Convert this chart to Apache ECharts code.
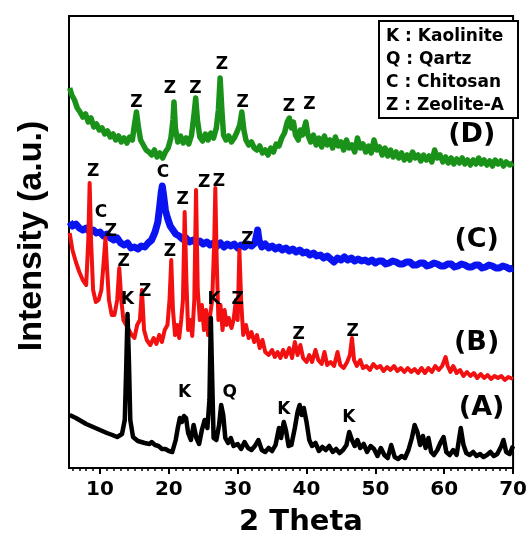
<!DOCTYPE html>
<html><head><meta charset="utf-8">
<script src="https://cdn.jsdelivr.net/npm/echarts@6/dist/echarts.min.js"></script>
<style>html,body{margin:0;padding:0;background:#fff}#c{width:530px;height:539px}</style>
</head><body><div id="c"></div><script>
const FONT = '"DejaVu Sans", sans-serif';
const xTickLabels = [10, 20, 30, 40, 50, 60, 70];

// (A) raw kaolin - black
const curveA = [[5.6,53],[6.5,50],[8,44],[9,41],[10,38],[11,35],[11.8,33],[12.5,31],[13.2,34],[13.6,48],[13.8,98],[14.0,154],[14.2,108],[14.4,48],[14.8,31],[15.5,27],[16.5,25],[17.2,24],[17.5,26],[18,23],[18.5,22],[19,19],[19.5,19],[20,17],[20.5,16],[21,28],[21.3,40],[21.6,50],[21.9,46],[22.2,52],[22.5,50],[22.8,35],[23.2,28],[23.6,43],[24.0,30],[24.4,24],[24.8,38],[25.2,48],[25.6,40],[25.9,68],[26.1,150],[26.3,88],[26.5,30],[26.9,28],[27.3,43],[27.6,63],[27.9,53],[28.2,30],[28.6,25],[29.0,30],[29.4,22],[30,24],[30.5,19],[31,26],[31.5,20],[32,18],[32.5,22],[33,28],[33.5,18],[34,16],[34.5,20],[35,17],[35.5,23],[36,40],[36.3,30],[36.7,46],[37.0,38],[37.4,22],[37.8,23],[38.3,40],[38.7,56],[39.0,63],[39.3,53],[39.6,60],[40.0,46],[40.4,28],[40.8,22],[41.3,25],[41.8,17],[42.3,21],[42.8,18],[43.3,22],[43.8,16],[44.3,19],[44.8,15],[45.3,18],[45.8,23],[46.2,36],[46.6,28],[47.0,22],[47.4,28],[47.8,20],[48.3,24],[48.8,16],[49.3,22],[49.8,19],[50.3,12],[50.8,20],[51.3,13],[51.8,10],[52.3,23],[52.8,11],[53.3,9],[53.8,12],[54.3,10],[54.8,18],[55.3,30],[55.7,43],[56.1,36],[56.5,23],[56.9,32],[57.3,20],[57.7,30],[58.1,16],[58.5,13],[59.0,18],[59.5,26],[59.9,31],[60.3,16],[60.8,13],[61.3,18],[61.8,13],[62.4,40],[62.8,23],[63.2,15],[63.7,13],[64.2,16],[64.7,12],[65.2,14],[65.7,11],[66.2,13],[66.7,16],[67.2,12],[67.7,14],[68.3,22],[68.6,28],[69.0,16],[69.5,14],[70,22]];

// (B) zeolite-A - red
const curveB = [[5.6,235],[6.0,218],[6.5,206],[7.0,196],[7.5,188],[8.0,183],[8.3,228],[8.5,285],[8.7,228],[9.0,178],[9.4,166],[9.8,168],[10.2,178],[10.5,203],[10.8,230],[11.0,203],[11.3,168],[11.7,153],[12.1,153],[12.5,168],[12.8,200],[13.1,168],[13.4,148],[13.8,143],[14.2,138],[14.6,133],[15.0,130],[15.4,143],[15.8,148],[16.1,178],[16.4,138],[16.8,128],[17.3,123],[17.8,130],[18.2,124],[18.6,133],[19.0,126],[19.4,138],[19.8,143],[20.1,168],[20.35,208],[20.6,158],[20.9,133],[21.2,143],[21.5,130],[21.8,148],[22.05,168],[22.3,256],[22.55,188],[22.8,138],[23.1,148],[23.4,132],[23.7,168],[23.95,278],[24.2,178],[24.5,148],[24.8,163],[25.1,138],[25.4,158],[25.7,133],[26.0,153],[26.3,168],[26.6,228],[26.75,280],[26.95,208],[27.2,148],[27.5,163],[27.8,138],[28.1,158],[28.4,143],[28.7,150],[29.1,140],[29.4,148],[29.75,168],[30.0,148],[30.25,218],[30.5,168],[30.8,133],[31.2,143],[31.6,130],[32.0,136],[32.4,126],[32.8,133],[33.2,120],[33.6,128],[34.0,116],[34.5,113],[35.0,118],[35.4,111],[35.8,116],[36.2,110],[36.6,118],[37.0,111],[37.5,120],[37.9,110],[38.3,126],[38.7,113],[39.1,123],[39.5,110],[40.0,106],[40.4,113],[40.8,106],[41.3,118],[41.7,108],[42.2,104],[42.6,116],[43.0,103],[43.5,106],[44.0,102],[44.5,116],[44.9,103],[45.4,100],[45.9,106],[46.3,113],[46.6,130],[46.9,108],[47.3,102],[47.8,108],[48.2,100],[48.7,102],[49.2,98],[49.7,104],[50.2,100],[50.7,102],[51.2,97],[51.7,101],[52.2,98],[52.7,102],[53.2,97],[53.7,100],[54.2,96],[54.7,100],[55.2,96],[55.7,99],[56.2,95],[56.7,100],[57.2,95],[57.7,100],[58.2,96],[58.7,102],[59.2,98],[59.7,102],[60.2,111],[60.5,102],[60.9,96],[61.3,102],[61.8,95],[62.3,98],[62.8,92],[63.3,96],[63.8,92],[64.3,95],[64.8,90],[65.3,94],[65.8,90],[66.3,93],[66.8,89],[67.3,92],[67.8,90],[68.3,92],[68.8,88],[69.3,91],[70,89]];

// (C) chitosan composite - blue
const curveC = [[5.6,246],[6.0,242],[6.5,244],[7.0,240],[7.5,238],[8.0,240],[8.5,236],[9.0,238],[9.5,235],[10.0,236],[10.5,232],[11.0,234],[11.5,230],[12.0,228],[12.5,230],[13.0,225],[13.5,223],[14.0,225],[14.5,220],[15.0,221],[15.5,219],[16.0,222],[16.5,221],[17.0,225],[17.5,228],[18.0,236],[18.4,246],[18.7,263],[18.9,276],[19.05,282],[19.25,272],[19.5,258],[19.8,250],[20.2,242],[20.6,238],[21.0,234],[21.5,232],[22.0,229],[22.5,230],[23.0,226],[23.5,228],[24.0,225],[24.5,227],[25.0,224],[25.5,226],[26.0,223],[26.5,225],[27.0,222],[27.5,225],[28.0,221],[28.5,224],[29.0,222],[29.5,224],[30.0,220],[30.5,223],[31.0,221],[31.5,224],[32.0,222],[32.5,225],[32.9,238],[33.1,228],[33.5,221],[34.0,224],[34.5,220],[35.0,222],[35.5,219],[36.0,221],[36.5,218],[37.0,220],[37.5,217],[38.0,219],[38.5,216],[39.0,218],[39.5,215],[40.0,216],[40.5,213],[41.0,215],[41.5,212],[42.0,213],[42.5,210],[43.0,212],[43.5,209],[44.0,206],[44.5,210],[45.0,208],[45.5,211],[46.0,208],[46.5,210],[47.0,207],[47.5,209],[48.0,207],[48.5,208],[49.0,206],[49.5,208],[50.0,205],[50.5,207],[51,207],[51.5,204],[52,205],[52.5,207],[53,206],[53.5,204],[54,204],[54.5,206],[55,206],[55.5,203],[56,203],[56.5,205],[57,205],[57.5,202],[58,203],[58.5,205],[59,204],[59.5,202],[60,202],[60.5,204],[61,204],[61.5,201],[62,202],[62.5,204],[63,203],[63.5,201],[64,201],[64.5,203],[65,203],[65.5,200],[66,201],[66.5,203],[67,202],[67.5,200],[68,200],[68.5,202],[69,201],[69.5,199],[70,200]];

// (D) zeolite-A/chitosan - green
const curveD = [[5.6,380],[5.9,373],[6.3,368],[6.7,360],[7.1,356],[7.5,351],[7.9,354],[8.3,346],[8.7,350],[9.1,341],[9.5,344],[9.9,338],[10.3,340],[10.7,334],[11.1,337],[11.5,331],[11.9,334],[12.3,328],[12.7,332],[13.1,326],[13.5,330],[13.9,325],[14.3,331],[14.7,328],[15.0,343],[15.3,356],[15.6,340],[15.9,328],[16.3,323],[16.7,318],[17.1,316],[17.5,313],[17.9,318],[18.3,311],[18.7,315],[19.1,310],[19.5,316],[19.9,320],[20.3,330],[20.6,348],[20.75,366],[20.95,340],[21.3,326],[21.7,332],[22.1,325],[22.5,330],[22.9,324],[23.3,333],[23.65,353],[23.9,370],[24.15,348],[24.5,331],[24.9,327],[25.3,334],[25.7,328],[26.1,335],[26.5,330],[26.9,340],[27.2,358],[27.45,390],[27.7,358],[27.95,333],[28.3,328],[28.7,332],[29.1,326],[29.5,330],[29.9,336],[30.3,343],[30.6,356],[30.9,338],[31.2,328],[31.6,323],[32.0,326],[32.4,320],[32.8,318],[33.2,322],[33.6,315],[34.0,318],[34.4,313],[34.8,320],[35.2,316],[35.6,324],[36.0,322],[36.4,330],[36.8,335],[37.2,346],[37.5,350],[37.8,340],[38.1,346],[38.4,333],[38.8,328],[39.1,338],[39.4,333],[39.6,338],[39.9,346],[40.2,333],[40.6,326],[41.0,333],[41.4,323],[41.8,330],[42.2,321],[42.6,332],[43.0,323],[43.4,328],[43.8,320],[44.2,331],[44.6,322],[45.0,326],[45.4,318],[45.8,328],[46.2,320],[46.6,323],[47.0,316],[47.4,330],[47.8,320],[48.2,324],[48.6,316],[49.0,322],[49.4,315],[49.8,328],[50.2,318],[50.6,321],[51.0,313],[51.4,320],[51.8,312],[52.2,318],[52.6,311],[53.0,316],[53.4,310],[53.8,315],[54.2,308],[54.6,313],[55.0,308],[55.4,316],[55.8,310],[56.2,313],[56.6,307],[57.0,313],[57.4,308],[57.8,312],[58.2,306],[58.6,318],[59.0,310],[59.4,313],[59.8,306],[60.2,311],[60.6,305],[61.0,310],[61.4,304],[61.8,309],[62.2,305],[62.6,310],[63.0,304],[63.4,308],[63.8,303],[64.2,308],[64.6,304],[65.0,310],[65.4,304],[65.8,308],[66.2,303],[66.6,307],[67.0,302],[67.4,308],[67.8,304],[68.2,307],[68.6,302],[69.0,306],[69.5,303],[70,305]];

// peak identification labels [2theta, intensity, text]
const peakLabels = [
  [15.29,365,'Z'],[20.14,379,'Z'],[23.86,379,'Z'],[27.71,403,'Z'],[30.71,365,'Z'],[37.43,361,'Z'],[40.43,363,'Z'],
  [10.14,255,'C'],[19.14,295,'C'],
  [9.0,296,'Z'],[11.57,236,'Z'],[13.43,206,'Z'],[16.57,176,'Z'],[20.14,216,'Z'],[22.0,268,'Z'],[25.14,285,'Z'],[27.29,286,'Z'],[31.43,228,'Z'],[30.0,168,'Z'],[38.86,133,'Z'],[46.71,136,'Z'],
  [14.0,168,'K'],[26.57,168,'K'],[22.29,75,'K'],[36.71,58,'K'],[46.14,50,'K'],
  [28.86,75,'Q']
];
const sampleLabels = [[65.43,60,'(A)'],[64.71,125,'(B)'],[64.71,228,'(C)'],[64.0,333,'(D)']];
const legendLines = ['K : Kaolinite', 'Q : Qartz', 'C : Chitosan', 'Z : Zeolite-A'];

const minorTicks = [];
for (let t = 6; t <= 70; t += 1) minorTicks.push(t);

const chart = echarts.init(document.getElementById('c'), null, {renderer: 'canvas'});
function lineSeries(data, color, width, z) {
  return {type: 'line', data: data, showSymbol: false, symbol: 'none', smooth: false, z: z,
    lineStyle: {color: color, width: width, join: 'round', opacity: 1}, emphasis: {disabled: true}, silent: true};
}
function labelSeries(data, size) {
  return {type: 'scatter', data: data, symbolSize: 1, z: 10, silent: true,
    itemStyle: {color: 'rgba(255,255,255,0)', opacity: 1},
    label: {show: true, position: 'inside', formatter: p => p.data[2], color: '#000', opacity: 1,
      textBorderWidth: 0, fontFamily: FONT, fontWeight: 'bold', fontSize: size}};
}
chart.setOption({
  animation: false,
  backgroundColor: '#fff',
  grid: {left: 69, right: 10, top: 16, bottom: 71, show: true, borderColor: '#000', borderWidth: 2, backgroundColor: 'transparent'},
  xAxis: [{
    type: 'value', min: 5.5, max: 70,
    axisLine: {show: false},
    splitLine: {show: false},
    axisTick: {show: true, length: 6, inside: false, customValues: xTickLabels, lineStyle: {color: '#000', width: 2}},
    axisLabel: {show: true, customValues: xTickLabels, margin: 12, color: '#000', fontFamily: FONT, fontWeight: 'bold', fontSize: 20}
  }, {
    type: 'value', min: 5.5, max: 70, position: 'bottom',
    axisLine: {show: false}, splitLine: {show: false}, axisLabel: {show: false},
    axisTick: {show: true, length: 3, customValues: minorTicks, lineStyle: {color: '#000', width: 1.5}}
  }],
  yAxis: {type: 'value', min: 0, max: 452, show: true, axisLine: {show: false}, axisTick: {show: false}, axisLabel: {show: false}, splitLine: {show: false}},
  series: [
    lineSeries(curveD, '#1a921a', 5.5, 2),
    lineSeries(curveC, '#0a14f0', 7, 3),
    lineSeries(curveB, '#f21010', 4, 4),
    lineSeries(curveA, '#000000', 4.5, 5),
    labelSeries(peakLabels, 17),
    labelSeries(sampleLabels, 27)
  ],
  graphic: [
    {type: 'rect', left: 378, top: 20, z: 20, shape: {width: 139, height: 97}, style: {fill: '#fff', stroke: '#000', lineWidth: 2}},
    {type: 'text', left: 386, top: 25, z: 21, style: {text: legendLines.join('\n'), font: 'bold 17px ' + FONT, lineHeight: 23, fill: '#000'}},
    {type: 'text', x: 301, y: 522, z: 21, style: {text: '2 Theta', font: 'bold 29px ' + FONT, fill: '#000', align: 'center', verticalAlign: 'middle'}},
    {type: 'text', x: 32, y: 236, rotation: Math.PI / 2, z: 21, style: {text: 'Intensity (a.u.)', font: 'bold 34px "Liberation Sans", Arial, sans-serif', fill: '#000', align: 'center', verticalAlign: 'middle'}}
  ]
});
</script></body></html>
